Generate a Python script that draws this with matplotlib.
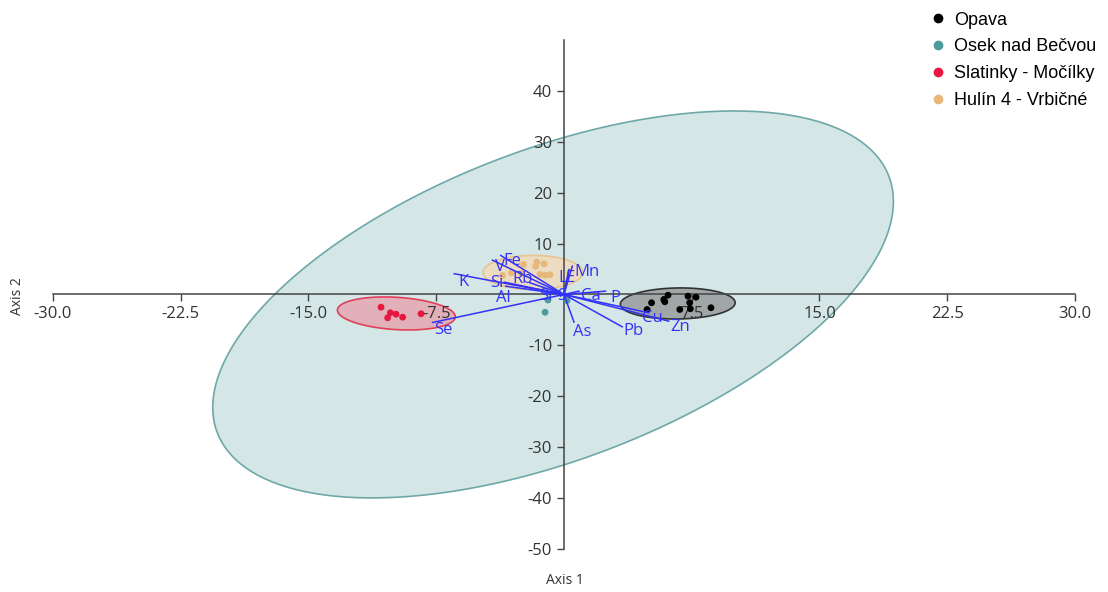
import numpy as np
import matplotlib
matplotlib.use("Agg")
import matplotlib.pyplot as plt

# group scores (Axis 1, Axis 2)
groups = ["Opava", "Osek nad Bečvou", "Slatinky - Močílky", "Hulín 4 - Vrbičné"]
colors = ["#000000", "#4f9a9a", "#e8173f", "#e6b97a"]

opava_x = [6.11, 5.14, 5.86, 5.92, 7.28, 7.75, 7.38, 7.42, 6.80, 4.88, 8.63]
opava_y = [-0.14, -1.63, -0.98, -1.43, -0.33, -0.53, -1.63, -2.81, -2.95, -2.95, -2.61]
osek_x = [-0.94, -1.11, 0.18]
osek_y = [-1.1, -3.5, -1.2]
slat_x = [-10.74, -10.19, -9.86, -10.35, -9.47, -8.39]
slat_y = [-2.50, -3.60, -3.87, -4.58, -4.46, -3.79]
hulin_x = [-1.60, -1.17, -1.66, -2.38, -3.09, -1.41, -1.11, -0.82, -3.61, -2.50]
hulin_y = [6.35, 6.03, 5.56, 5.89, 4.26, 3.93, 3.79, 3.87, 3.73, 4.10]

# confidence ellipses: centre, half extents, correlation
ell_cx = [6.68, -0.64, -9.84, -1.82]
ell_cy = [-1.77, -1.96, -3.73, 4.32]
ell_sx = [3.37, 19.98, 3.46, 2.93]
ell_sy = [3.05, 38.0, 3.24, 3.34]
ell_r = [0.05, 0.532, -0.2, 0.0]
ell_face = ["#a1a6a6", "#d5e6e6", "#e2b0b8", "#ecdcc2"]
ell_edge = ["#333333", "#6ea8a8", "#e0405a", "#e8c48e"]

# element loadings
elements = ["Fe", "V", "K", "Si", "Rb", "Al", "Sr", "S", "L", "E", "Mn",
            "Ca", "P", "Pb", "As", "Se", "Cu", "Zn"]
load_x = [-3.71, -4.20, -6.44, -3.51, -2.0, -3.42, -1.1, -0.2, 0.3, 0.25, 0.49,
          0.88, 2.44, 3.42, 0.59, -7.71, 4.98, 6.15]
load_y = [7.66, 6.74, 4.07, 2.42, 2.3, 1.63, 0.3, -0.3, 4.9, 4.3, 5.56,
          0.65, 0.65, -6.35, -5.43, -5.50, -3.6, -5.24]
lab_x = [-3.05, -3.75, -5.92, -3.92, -2.46, -3.57, -1.0, -0.12, -0.06, 0.35, 1.35,
         1.6, 2.99, 4.1, 1.05, -7.09, 5.21, 6.85]
lab_y = [6.48, 5.3, 2.36, 2.3, 2.95, -0.75, -0.4, -0.4, 3.28, 3.14, 4.32,
         -0.4, -0.6, -7.27, -7.47, -7.07, -4.72, -6.48]

x_ticks = [-30, -22.5, -15, -7.5, 7.5, 15, 22.5, 30]
y_ticks = [-50, -40, -30, -20, -10, 10, 20, 30, 40]


def ellipse_xy(cx, cy, sx, sy, r):
    t = np.linspace(0, 2 * np.pi, 300)
    x = cx + sx * np.cos(t)
    y = cy + sy * (r * np.cos(t) + np.sqrt(1 - r * r) * np.sin(t))
    return x, y


fig = plt.figure(figsize=(11.08, 5.92), dpi=100)
ax = fig.add_axes([0.0478, 0.0726, 0.9224, 0.86])
ax.set_xlim(-30, 30)
ax.set_ylim(-50, 50)

# big ellipse first, then the small ones
for i in [1, 0, 2, 3]:
    ex, ey = ellipse_xy(ell_cx[i], ell_cy[i], ell_sx[i], ell_sy[i], ell_r[i])
    ax.fill(ex, ey, facecolor=ell_face[i], edgecolor=ell_edge[i], lw=1.2, zorder=1)

pts = [(opava_x, opava_y), (osek_x, osek_y), (slat_x, slat_y), (hulin_x, hulin_y)]
for (px, py), c in zip(pts, colors):
    ax.scatter(px, py, s=24, color=c, zorder=3, edgecolors="none")

blue = "#3333f8"
for i, el in enumerate(elements):
    ax.plot([0, load_x[i]], [0, load_y[i]], color=blue, lw=1.1, zorder=4)
    ax.text(lab_x[i], lab_y[i], el, color=blue, fontsize=12, family="Open Sans",
            ha="center", va="center", zorder=5)

# axes through the origin
for s in ["top", "right"]:
    ax.spines[s].set_visible(False)
ax.spines["left"].set_position(("data", 0))
ax.spines["bottom"].set_position(("data", 0))
for s in ["left", "bottom"]:
    ax.spines[s].set_color("#444444")
    ax.spines[s].set_linewidth(1.1)
    ax.spines[s].set_zorder(2)

ax.set_xticks(x_ticks)
ax.set_xticklabels([f"{v:.1f}" for v in x_ticks])
ax.set_yticks(y_ticks)
ax.set_yticklabels([str(v) for v in y_ticks])
ax.tick_params(axis="both", direction="out", length=5, width=1, color="#444444",
               labelsize=12, labelcolor="#333333")
for lab in ax.get_xticklabels() + ax.get_yticklabels():
    lab.set_family("Open Sans")

fig.text(0.51, 0.02, "Axis 1", ha="center", va="center", fontsize=10,
         family="Open Sans", color="#333333")
fig.text(0.016, 0.5, "Axis 2", ha="center", va="center", rotation=90,
         fontsize=10, family="Open Sans", color="#333333")

handles = [plt.Line2D([], [], marker="o", ls="none", color=c, markersize=6)
           for c in colors]
fig.legend(handles, groups, loc="upper left", bbox_to_anchor=(0.822, 1.008),
           frameon=False, prop={"family": "Liberation Sans", "size": 13},
           handletextpad=0.3, labelspacing=0.55, handlelength=1.2)

fig.savefig("out.png", dpi=100)
